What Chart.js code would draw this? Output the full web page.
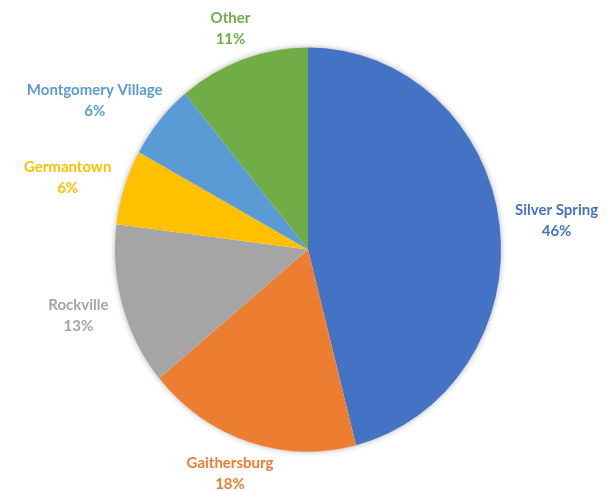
<!DOCTYPE html>
<html>
<head>
<meta charset="utf-8">
<script src="https://cdn.jsdelivr.net/npm/chart.js@4/dist/chart.umd.min.js"></script>
<style>
  html, body { margin: 0; padding: 0; background: #fff; }
  #wrap { width: 607px; height: 491px; }
</style>
</head>
<body>
<div id="wrap"><canvas id="cityPie"></canvas></div>
<script>
const cities = ['Silver Spring', 'Gaithersburg', 'Rockville', 'Germantown', 'Montgomery Village', 'Other'];
const shares = [46, 18, 13, 6, 6, 11];
const sliceColors = ['#4472C4', '#ED7D31', '#A5A5A5', '#FFC000', '#5B9BD5', '#70AD47'];

// the pie is a touch taller than it is wide
const stretchY = 1.047;

const ovalPlugin = {
  id: 'oval',
  beforeDatasetsDraw(chart) {
    const arc = chart.getDatasetMeta(0).data[0];
    const ctx = chart.ctx;
    ctx.save();
    ctx.translate(arc.x, arc.y);
    ctx.scale(1, stretchY);
    ctx.translate(-arc.x, -arc.y);
    // soft shadow under the whole pie
    ctx.save();
    ctx.shadowColor = 'rgba(0,0,0,0.35)';
    ctx.shadowBlur = 6;
    ctx.beginPath();
    ctx.arc(arc.x, arc.y, arc.outerRadius - 0.5, 0, Math.PI * 2);
    ctx.fillStyle = '#fff';
    ctx.fill();
    ctx.restore();
  },
  afterDatasetsDraw(chart) {
    chart.ctx.restore();
  }
};

const labelPlugin = {
  id: 'outLabels',
  afterDraw(chart) {
    const ctx = chart.ctx;
    const meta = chart.getDatasetMeta(0);
    ctx.save();
    ctx.font = 'bold 15px Lato, "Open Sans", sans-serif';
    ctx.textAlign = 'center';
    ctx.textBaseline = 'middle';
    meta.data.forEach((arc, i) => {
      const mid = (arc.startAngle + arc.endAngle) / 2;
      const c = Math.cos(mid), s = Math.sin(mid);
      const r = arc.outerRadius + 16;
      const pct = shares[i] + '%';
      const w = Math.max(ctx.measureText(cities[i]).width, ctx.measureText(pct).width);
      const h = 32;
      const x = arc.x + c * r + c * w / 2;
      const y = arc.y + s * r * stretchY + s * h / 2;
      ctx.fillStyle = sliceColors[i];
      ctx.fillText(cities[i], x, y - 10);
      ctx.fillText(pct, x, y + 11);
    });
    ctx.restore();
  }
};

const ctx = document.getElementById('cityPie').getContext('2d');
const cityPie = new Chart(ctx, {
  type: 'pie',
  data: {
    labels: cities,
    datasets: [{
      data: shares,
      backgroundColor: sliceColors,
      borderWidth: 0
    }]
  },
  options: {
    responsive: true,
    maintainAspectRatio: false,
    animation: false,
    layout: { padding: { left: 115, right: 106, top: 56, bottom: 48 } },
    plugins: {
      legend: { display: false },
      tooltip: { enabled: false }
    }
  },
  plugins: [ovalPlugin, labelPlugin]
});
</script>
</body>
</html>
